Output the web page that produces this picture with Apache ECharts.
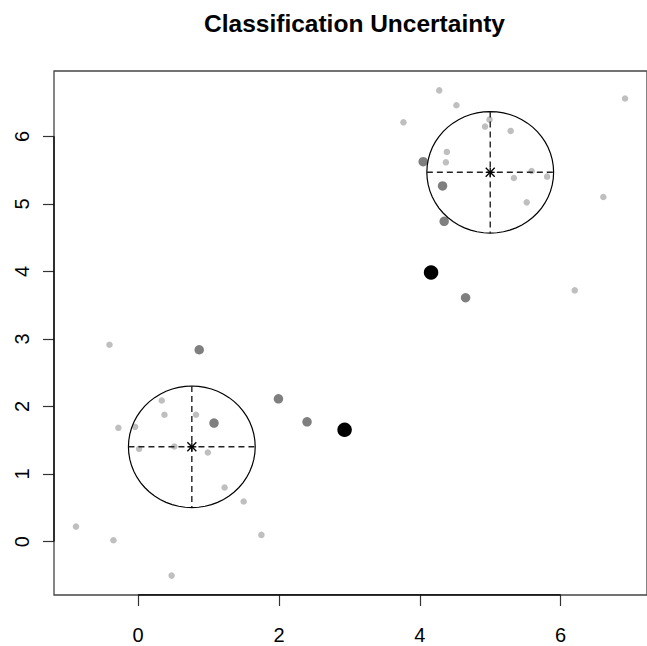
<!DOCTYPE html>
<html>
<head>
<meta charset="utf-8">
<title>Classification Uncertainty</title>
<script src="https://cdn.jsdelivr.net/npm/echarts@6/dist/echarts.min.js"></script>
<style>
  html, body { margin: 0; padding: 0; background: #fff; }
  #chart { width: 647px; height: 646px; }
</style>
</head>
<body>
<div id="chart"></div>
<script>
// axis ticks and plotting range (R pads the data range by 4%)
const xTicks = [0, 2, 4, 6];
const yTicks = [0, 1, 2, 3, 4, 5, 6];
const xRange = [-1.194, 7.226];
const yRange = [-0.791, 6.967];

// points grouped by uncertainty level
const lowUncertainty = [
  [-0.406, 2.914], [0.336, 2.089], [0.374, 1.877], [0.822, 1.877], [-0.28, 1.684],
  [-0.042, 1.699], [0.014, 1.373], [0.514, 1.407], [0.99, 1.319], [-0.882, 0.222],
  [-0.35, 0.02], [0.476, -0.504], [1.228, 0.8], [1.499, 0.593], [1.751, 0.099],
  [4.276, 6.68], [4.52, 6.46], [3.768, 6.207], [6.914, 6.559], [4.99, 6.247],
  [4.926, 6.144], [5.29, 6.08], [4.384, 5.769], [4.37, 5.615], [5.588, 5.487],
  [5.336, 5.383], [5.808, 5.403], [5.518, 5.022], [6.606, 5.102], [6.2, 3.719],
];
const midUncertainty = [
  [0.868, 2.84], [1.078, 1.754], [1.993, 2.114], [2.399, 1.773],
  [4.048, 5.625], [4.323, 5.265], [4.346, 4.741], [4.65, 3.61],
];
const highUncertainty = [
  [2.932, 1.655], [4.16, 3.985],
];

// cluster means and ellipse radii
const clusterMeanX = [0.763, 5.0];
const clusterMeanY = [1.403, 5.467];
const clusterRadius = [0.9, 0.9];

const chart = echarts.init(document.getElementById('chart'), null, { renderer: 'svg' });

const labelFont = 'Liberation Sans, Arial, Helvetica, sans-serif';

const renderCluster = (params, api) => {
  const c = api.coord([api.value(0), api.value(1)]);
  const s = api.size([api.value(2), api.value(2)]);
  const pts = [];
  for (let k = 0; k <= 60; k += 1) {
    const t = (k / 60) * Math.PI * 2;
    pts.push([c[0] + s[0] * Math.cos(t), c[1] - s[1] * Math.sin(t)]);
  }
  const dash = { stroke: '#222', lineWidth: 1.4, lineDash: [6, 4] };
  const star = { stroke: '#000', lineWidth: 1.3 };
  const a = 4.5;
  return {
    type: 'group',
    children: [
      { type: 'polygon', shape: { points: pts }, style: { fill: null, stroke: '#000', lineWidth: 1.2 } },
      { type: 'line', shape: { x1: c[0] - s[0], y1: c[1], x2: c[0] + s[0], y2: c[1] }, style: dash },
      { type: 'line', shape: { x1: c[0], y1: c[1] - s[1], x2: c[0], y2: c[1] + s[1] }, style: dash },
      { type: 'line', shape: { x1: c[0] - a, y1: c[1], x2: c[0] + a, y2: c[1] }, style: star },
      { type: 'line', shape: { x1: c[0], y1: c[1] - a, x2: c[0], y2: c[1] + a }, style: star },
      { type: 'line', shape: { x1: c[0] - a, y1: c[1] - a, x2: c[0] + a, y2: c[1] + a }, style: star },
      { type: 'line', shape: { x1: c[0] - a, y1: c[1] + a, x2: c[0] + a, y2: c[1] - a }, style: star },
    ],
  };
};

const option = {
  animation: false,
  backgroundColor: '#fff',
  graphic: [{
    type: 'text',
    x: 354.5,
    y: 23,
    style: {
      text: 'Classification Uncertainty',
      font: 'bold 24.5px ' + labelFont,
      fill: '#000',
      textAlign: 'center',
      textVerticalAlign: 'middle',
    },
  }],
  grid: {
    left: 54, top: 71, width: 601, height: 524,
    show: true, borderColor: '#444', borderWidth: 1.3, backgroundColor: 'transparent',
  },
  xAxis: {
    type: 'value',
    min: xRange[0],
    max: xRange[1],
    splitLine: { show: false },
    axisLine: { show: false, onZero: false },
    axisTick: { show: true, customValues: xTicks, length: 11, lineStyle: { color: '#333', width: 1.2 } },
    axisLabel: { customValues: xTicks, margin: 30, fontSize: 20, color: '#000', fontFamily: labelFont },
  },
  yAxis: {
    type: 'value',
    min: yRange[0],
    max: yRange[1],
    splitLine: { show: false },
    axisLine: { show: false, onZero: false },
    axisTick: { show: true, customValues: yTicks, length: 11, lineStyle: { color: '#333', width: 1.2 } },
    axisLabel: { customValues: yTicks, margin: 22, rotate: 90, fontSize: 20, color: '#000', fontFamily: labelFont },
  },
  series: [
    {
      type: 'line',
      silent: true,
      symbol: 'none',
      data: [[xTicks[0], yRange[0]], [xTicks[xTicks.length - 1], yRange[0]]],
      lineStyle: { color: '#000', width: 1.3 },
    },
    {
      type: 'line',
      silent: true,
      symbol: 'none',
      data: [[xRange[0], yTicks[0]], [xRange[0], yTicks[yTicks.length - 1]]],
      lineStyle: { color: '#000', width: 1.3 },
    },
    {
      type: 'scatter',
      data: lowUncertainty,
      symbolSize: 6.5,
      itemStyle: { color: '#BFBFBF', opacity: 1 },
    },
    {
      type: 'scatter',
      data: midUncertainty,
      symbolSize: 9.5,
      itemStyle: { color: '#7F7F7F', opacity: 1 },
    },
    {
      type: 'scatter',
      data: highUncertainty,
      symbolSize: 14.5,
      itemStyle: { color: '#000', opacity: 1 },
    },
    {
      type: 'custom',
      renderItem: renderCluster,
      dimensions: ['x', 'y', 'r'],
      encode: { x: 0, y: 1 },
      data: clusterMeanX.map((x, i) => [x, clusterMeanY[i], clusterRadius[i]]),
      z: 5,
    },
  ],
};

chart.setOption(option);
</script>
</body>
</html>
